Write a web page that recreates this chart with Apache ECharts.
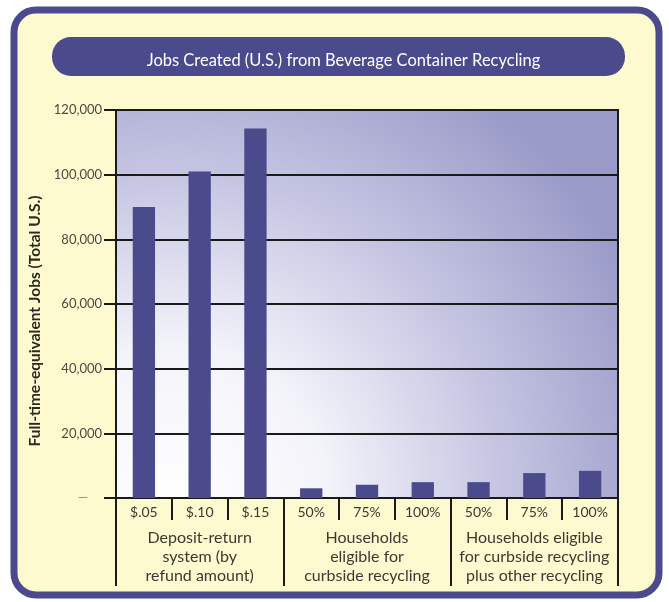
<!DOCTYPE html>
<html>
<head>
<meta charset="utf-8">
<script src="https://cdn.jsdelivr.net/npm/echarts@6/dist/echarts.min.js"></script>
<style>
html,body{margin:0;padding:0;background:#ffffff;}
#chart{width:669px;height:602px;}
</style>
</head>
<body>
<div id="chart"></div>
<script>
// ---- data ----
const titleText = 'Jobs Created (U.S.) from Beverage Container Recycling';
const yAxisTitle = 'Full-time-equivalent Jobs (Total U.S.)';
const categories = ['$.05', '$.10', '$.15', '50%', '75%', '100%', '50%', '75%', '100%'];
const jobs = [90000, 101000, 114300, 3000, 4100, 4900, 4900, 7700, 8400];
const groups = [
  'Deposit-return\nsystem (by\nrefund amount)',
  'Households\neligible for\ncurbside recycling',
  'Households eligible\nfor curbside recycling\nplus other recycling'
];
const yTicks = [0, 20000, 40000, 60000, 80000, 100000, 120000];

// ---- chart ----
const chart = echarts.init(document.getElementById('chart'), null, {renderer: 'canvas'});
const FONT = 'Lato';
const purple = '#4b4a8c';

const option = {
  backgroundColor: '#ffffff',
  animation: false,
  graphic: [
    {
      type: 'rect', z: -10, silent: true,
      shape: {x: 14, y: 10, width: 645, height: 585, r: 22},
      style: {fill: '#fdfad0', stroke: purple, lineWidth: 7}
    },
    {
      type: 'rect', z: -9, silent: true,
      shape: {x: 52, y: 37, width: 573, height: 39, r: 19},
      style: {fill: purple}
    }
  ],
  title: {
    text: titleText,
    left: 338.5, top: 47, textAlign: 'center',
    textStyle: {color: '#ffffff', fontFamily: FONT, fontSize: 16.5, fontWeight: 'normal'}
  },
  grid: {
    left: 116, right: 51, top: 110, bottom: 104,
    show: true, borderColor: '#1a1a1a', borderWidth: 2,
    backgroundColor: {
      type: 'radial', x: 0.12, y: 1.0, r: 1.3,
      colorStops: [
        {offset: 0, color: '#ffffff'},
        {offset: 0.3, color: '#f3f3fa'},
        {offset: 0.65, color: '#c4c4e2'},
        {offset: 1, color: '#9a9ac8'}
      ]
    }
  },
  xAxis: [
    {
      type: 'category', data: categories, position: 'bottom',
      axisLine: {lineStyle: {color: '#1a1a1a', width: 2}},
      axisTick: {show: true, interval: 0, length: 22, lineStyle: {color: '#1a1a1a', width: 2}},
      axisLabel: {interval: 0, margin: 7, color: '#3a3a30', fontFamily: FONT, fontSize: 14}
    },
    {
      type: 'category', data: groups, position: 'bottom',
      axisLine: {show: false},
      axisTick: {show: true, interval: 0, length: 88, lineStyle: {color: '#1a1a1a', width: 2}},
      axisLabel: {interval: 0, margin: 30, color: '#3a3a30', fontFamily: FONT, fontSize: 16, lineHeight: 19}
    }
  ],
  yAxis: {
    type: 'value', min: 0, max: 120000, interval: 20000,
    name: yAxisTitle, nameLocation: 'middle', nameGap: 73,
    nameTextStyle: {color: '#2a2a20', fontFamily: FONT, fontSize: 15.5, fontWeight: 'bold', padding: [0, 34, 0, 0]},
    axisLine: {show: true, lineStyle: {color: '#1a1a1a', width: 2}},
    axisTick: {show: true, length: 12, lineStyle: {color: '#1a1a1a', width: 2}},
    splitLine: {show: true, lineStyle: {color: '#1a1a1a', width: 2}},
    axisLabel: {
      margin: 14, color: '#4a4a40', fontFamily: FONT, fontSize: 13,
      formatter: function (v) {
        if (v === 0) return '{z|—}';
        return v.toLocaleString('en-US');
      },
      rich: {z: {color: '#8a8a80', fontSize: 13, padding: [0, 14, 0, 0]}}
    }
  },
  series: [
    {
      type: 'bar', xAxisIndex: 0, data: jobs, barWidth: '40%',
      itemStyle: {color: purple}
    }
  ]
};
chart.setOption(option);
</script>
</body>
</html>
